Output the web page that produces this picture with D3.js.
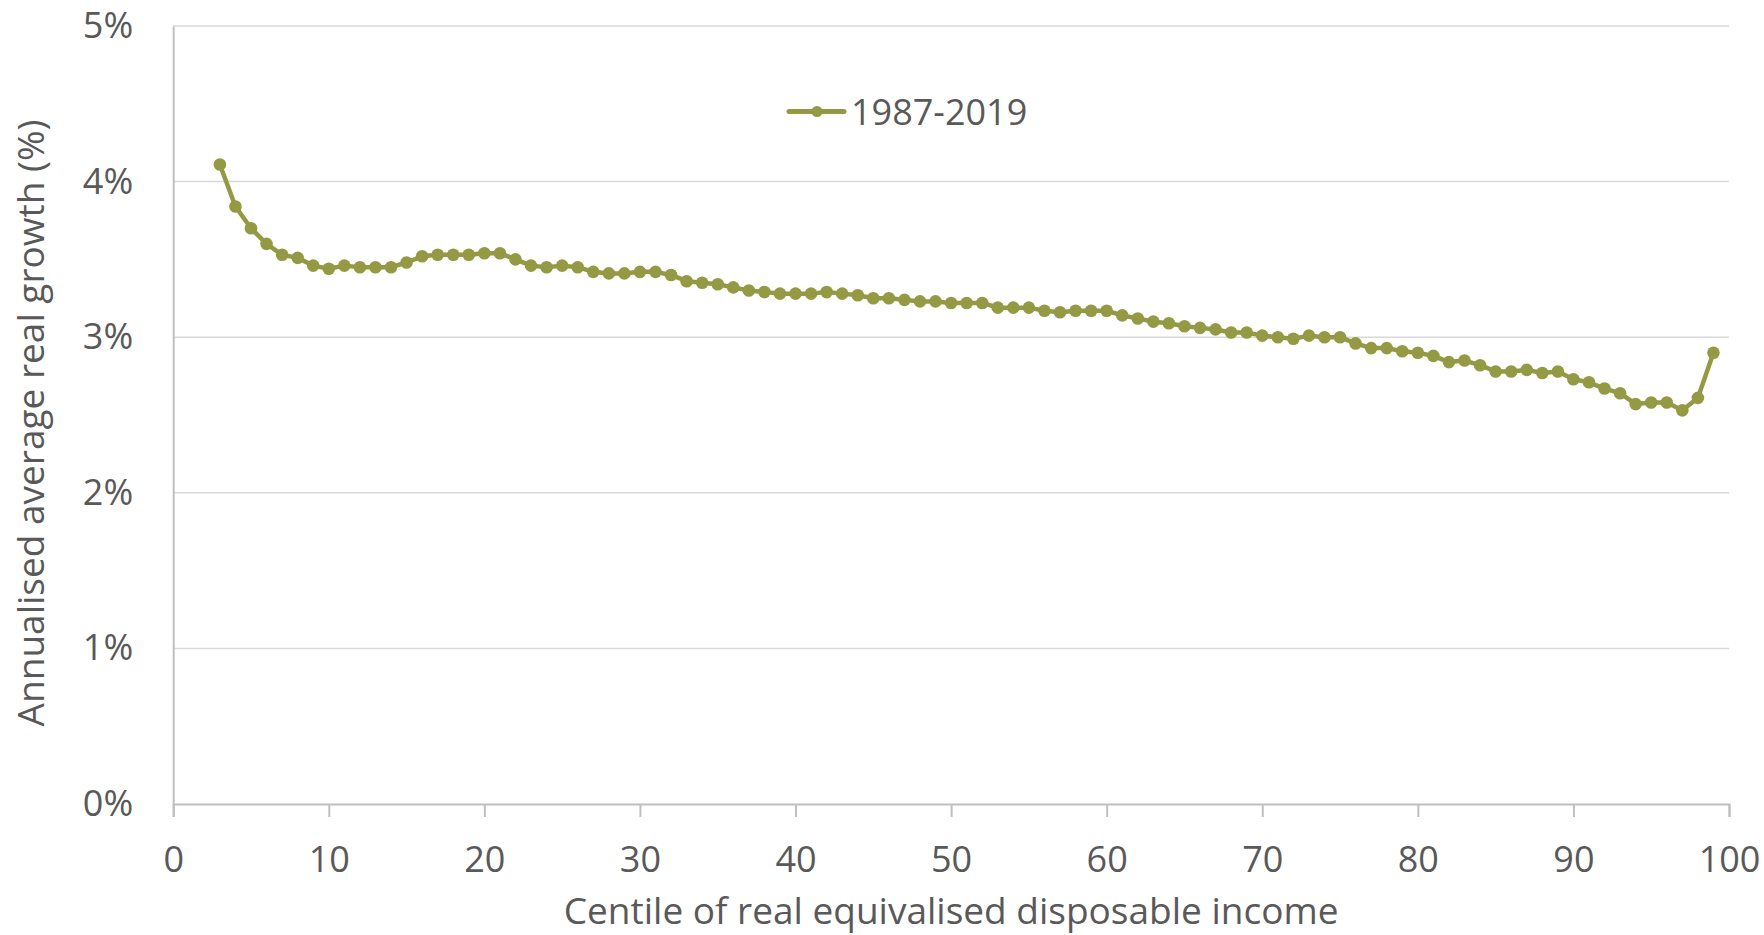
<!DOCTYPE html>
<html>
<head>
<meta charset="utf-8">
<script src="https://cdn.jsdelivr.net/npm/d3@7"></script>
<style>
  body { margin: 0; background: #fff; }
  svg text { font-family: "Open Sans", sans-serif; fill: #595959; }
</style>
</head>
<body>
<div id="chart"></div>
<script>
/*.............................................................................
          Graph : Annualised real growth by income centile, 1987-2019
..............................................................................*/
var centiles = [3, 4, 5, 6, 7, 8, 9, 10, 11, 12, 13, 14, 15, 16, 17, 18, 19, 20,
  21, 22, 23, 24, 25, 26, 27, 28, 29, 30, 31, 32, 33, 34, 35, 36, 37, 38, 39, 40,
  41, 42, 43, 44, 45, 46, 47, 48, 49, 50, 51, 52, 53, 54, 55, 56, 57, 58, 59, 60,
  61, 62, 63, 64, 65, 66, 67, 68, 69, 70, 71, 72, 73, 74, 75, 76, 77, 78, 79, 80,
  81, 82, 83, 84, 85, 86, 87, 88, 89, 90, 91, 92, 93, 94, 95, 96, 97, 98, 99];

var growth = [4.11, 3.84, 3.70, 3.60, 3.53, 3.51, 3.46, 3.44, 3.46, 3.45, 3.45, 3.45,
  3.48, 3.52, 3.53, 3.53, 3.53, 3.54, 3.54, 3.50, 3.46, 3.45, 3.46, 3.45, 3.42, 3.41,
  3.41, 3.42, 3.42, 3.40, 3.36, 3.35, 3.34, 3.32, 3.30, 3.29, 3.28, 3.28, 3.28, 3.29,
  3.28, 3.27, 3.25, 3.25, 3.24, 3.23, 3.23, 3.22, 3.22, 3.22, 3.19, 3.19, 3.19, 3.17,
  3.16, 3.17, 3.17, 3.17, 3.14, 3.12, 3.10, 3.09, 3.07, 3.06, 3.05, 3.03, 3.03, 3.01,
  3.00, 2.99, 3.01, 3.00, 3.00, 2.96, 2.93, 2.93, 2.91, 2.90, 2.88, 2.84, 2.85, 2.82,
  2.78, 2.78, 2.79, 2.77, 2.78, 2.73, 2.71, 2.67, 2.64, 2.57, 2.58, 2.58, 2.53, 2.61,
  2.90];

var xTicks = [0, 10, 20, 30, 40, 50, 60, 70, 80, 90, 100];
var yTicks = [0, 1, 2, 3, 4, 5];
var seriesName = "1987-2019";

var W = 1764, H = 935;
var margin = {top: 26, right: 35, bottom: 131, left: 173.2};
var width = W - margin.left - margin.right,
    height = H - margin.top - margin.bottom;
var lineColor = "#949a44";

var x = d3.scaleLinear().domain([0, 100]).range([0, width]);
var y = d3.scaleLinear().domain([0, 5]).range([height, 0]);

var svg = d3.select("#chart").append("svg")
    .attr("width", W)
    .attr("height", H)
  .append("g")
    .attr("transform", "translate(" + margin.left + "," + margin.top + ")");

// gridlines
svg.append("g")
    .selectAll("line")
    .data(yTicks.filter(function(d) { return d > 0; }))
  .enter().append("line")
    .attr("x1", 0)
    .attr("x2", width)
    .attr("y1", function(d) { return y(d); })
    .attr("y2", function(d) { return y(d); })
    .style("stroke", "#d9d9d9")
    .style("stroke-width", 1.5);

// y axis
var yAxis = d3.axisLeft(y).tickValues(yTicks)
    .tickFormat(function(d) { return d + "%"; })
    .tickSize(0).tickPadding(40);
var gy = svg.append("g").attr("class", "y axis").call(yAxis);
gy.select(".domain").style("stroke", "#bfbfbf").style("stroke-width", 2);
gy.selectAll(".tick text").style("font-size", "36px").style("font-family", "Open Sans, sans-serif").attr("fill", "#595959");

// x axis
var xAxis = d3.axisBottom(x).tickValues(xTicks)
    .tickSizeInner(13).tickSizeOuter(13).tickPadding(29);
var gx = svg.append("g")
    .attr("class", "x axis")
    .attr("transform", "translate(0," + height + ")")
    .call(xAxis);
gx.select(".domain").style("stroke", "#bfbfbf").style("stroke-width", 2);
gx.selectAll(".tick line").style("stroke", "#bfbfbf").style("stroke-width", 2);
gx.selectAll(".tick text").style("font-size", "36px").style("font-family", "Open Sans, sans-serif").attr("fill", "#595959");

// axis titles
svg.append("text")
    .attr("x", width / 2)
    .attr("y", height + 120)
    .style("font-size", "37px")
    .style("text-anchor", "middle")
    .text("Centile of real equivalised disposable income");

svg.append("text")
    .attr("transform", "rotate(-90)")
    .attr("x", -(height / 2) - 8)
    .attr("y", -margin.left + 44)
    .style("font-size", "37px")
    .style("text-anchor", "middle")
    .text("Annualised average real growth (%)");

// series
var points = centiles.map(function(c, i) { return {c: c, v: growth[i]}; });

var line = d3.line()
    .x(function(d) { return x(d.c); })
    .y(function(d) { return y(d.v); });

svg.append("path")
    .datum(points)
    .attr("d", line)
    .style("fill", "none")
    .style("stroke", lineColor)
    .style("stroke-width", 4.5)
    .style("stroke-linejoin", "round");

svg.selectAll(".dot")
    .data(points)
  .enter().append("circle")
    .attr("class", "dot")
    .attr("cx", function(d) { return x(d.c); })
    .attr("cy", function(d) { return y(d.v); })
    .attr("r", 6.3)
    .style("fill", lineColor);

// legend
var legend = svg.append("g")
    .attr("transform", "translate(" + (789 - margin.left) + "," + (111.5 - margin.top) + ")");
legend.append("line")
    .attr("x1", 0).attr("x2", 55)
    .attr("y1", 0).attr("y2", 0)
    .style("stroke", lineColor)
    .style("stroke-width", 5)
    .style("stroke-linecap", "round");
legend.append("circle")
    .attr("cx", 28).attr("cy", 0).attr("r", 5.5)
    .style("fill", lineColor);
legend.append("text")
    .attr("x", 62)
    .attr("y", 13)
    .style("font-size", "36px")
    .text(seriesName);
</script>
</body>
</html>
